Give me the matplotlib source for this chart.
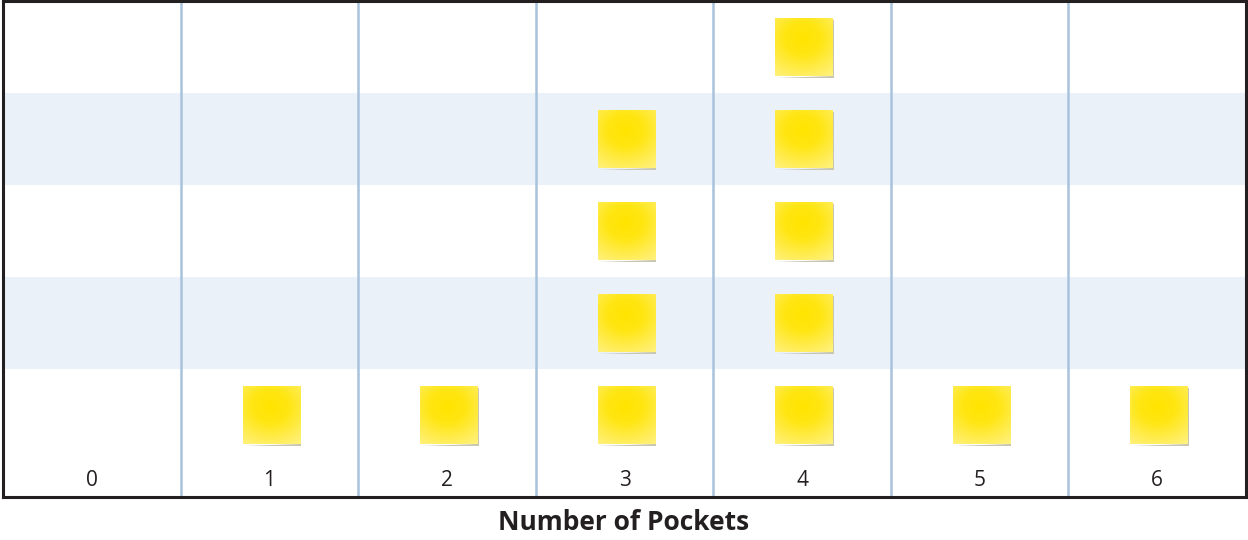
import numpy as np
import matplotlib.pyplot as plt
from matplotlib.colors import LinearSegmentedColormap
from matplotlib.patches import Polygon

# number of pockets -> how many students (sticky notes)
pockets = [0, 1, 2, 3, 4, 5, 6]
counts = [0, 1, 1, 4, 5, 1, 1]
xlabel = "Number of Pockets"

plt.rcParams['font.family'] = ['Open Sans', 'DejaVu Sans']

fig = plt.figure(figsize=(12.48, 5.4), dpi=100)
ax = fig.add_axes([3 / 1248, 43 / 540, 1243 / 1248, 496 / 540])

n_rows = max(counts)
ax.set_xlim(-0.5, len(pockets) - 0.5)
ax.set_ylim(-0.89, n_rows - 0.5)

# alternating horizontal bands
for r in range(n_rows):
    if r % 2 == 1:
        ax.axhspan(r - 0.5, r + 0.5, color="#ebf1f8", lw=0, zorder=0)

# column separators
for p in pockets[1:]:
    ax.axvline(p - 0.5, color="#a9c3dc", lw=1.8, zorder=1)

# sticky-note gradient (brightest upper middle, paler towards lower right)
cmap = LinearSegmentedColormap.from_list(
    "note", ["#ffe400", "#ffe612", "#ffec50", "#fff389"])
gy, gx = np.mgrid[-1:1:60j, -1:1:60j]
grad = np.sqrt((gx + 0.05) ** 2 * 0.8 + (gy + 0.3) ** 2)

w, h = 0.322, 0.62
for p, c in zip(pockets, counts):
    for k in range(c):
        x0, x1 = p + 0.01 - w / 2, p + 0.01 + w / 2
        y0, y1 = k - h / 2, k + h / 2
        # shadow on the lower-right edge
        sh = Polygon([(x0 + 0.01, y0 - 0.025), (x1 + 0.008, y0 - 0.025),
                      (x1 + 0.008, y1 - 0.02), (x1, y1 - 0.02), (x1, y0)],
                     closed=True, color="#c9c6b0", lw=0, zorder=2)
        ax.add_patch(sh)
        ax.imshow(grad, cmap=cmap, vmin=0, vmax=1.7, origin="upper",
                  extent=[x0, x1, y0, y1], aspect="auto", zorder=3,
                  interpolation="bilinear")

# category labels inside the frame
for p in pockets:
    ax.text(p, -0.71, str(p), ha="center", va="center", fontsize=15,
            color="#231f20", zorder=4)

ax.set_xticks([])
ax.set_yticks([])
for s in ax.spines.values():
    s.set_color("#231f20")
    s.set_linewidth(2.2)

fig.text(0.5, (540 - 523) / 540, xlabel, ha="center", va="center",
         fontsize=19, fontweight="bold", color="#231f20")

fig.savefig("out.png", dpi=100)
